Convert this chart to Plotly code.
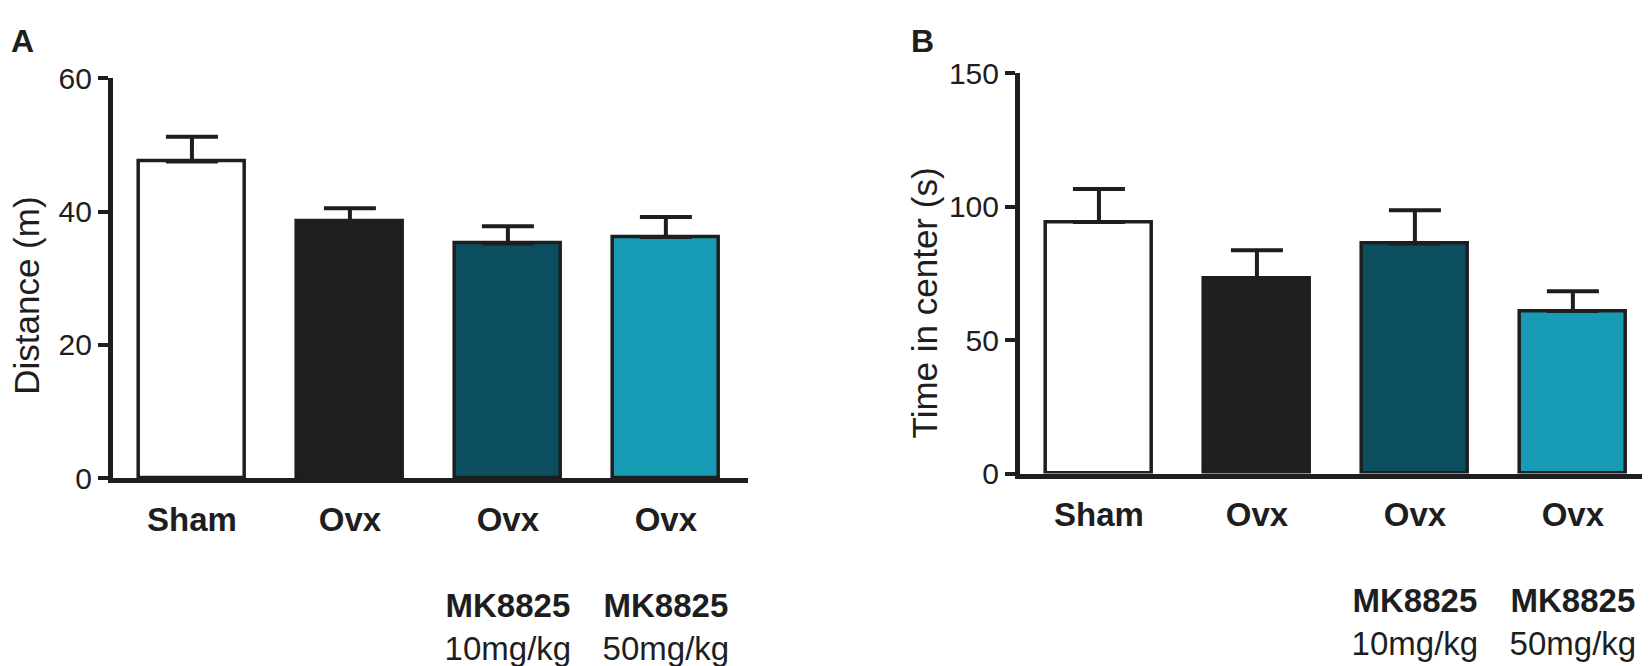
import plotly.graph_objects as go

# group labels (bottom of each bar)
groups = ["Sham", "Ovx", "Ovx", "Ovx"]
treatments = ["", "", "MK8825", "MK8825"]
doses = ["", "", "10mg/kg", "50mg/kg"]

# panel A: distance travelled (m), mean and upper SEM
distance_mean = [47.5, 38.5, 35.2, 36.2]
distance_sem = [3.7, 2.0, 2.6, 3.0]

# panel B: time in center (s), mean and upper SEM
center_mean = [94.3, 73.2, 86.2, 60.9]
center_sem = [12.4, 10.5, 12.5, 7.4]

bar_colors = ["#ffffff", "#1f1f1f", "#0a4e60", "#179bb4"]
ink = "#1e1e1e"
font_family = "Liberation Sans, Arial, sans-serif"
W, H = 1650, 666

positions = list(range(len(groups)))
tick_text = []
for g, t, d in zip(groups, treatments, doses):
	label = f"<b>{g}</b>"
	if t:
		label += f"<br><br><b>{t}</b><br>{d}"
	tick_text.append(label)


def bar_trace(means, sems, xaxis, yaxis):
	return go.Bar(
		x=positions,
		y=means,
		width=0.67,
		marker=dict(color=bar_colors, line=dict(color=ink, width=3.5)),
		error_y=dict(type="data", array=sems, arrayminus=[0] * len(sems), symmetric=False,
			color=ink, thickness=4, width=26),
		xaxis=xaxis,
		yaxis=yaxis,
		showlegend=False,
	)


def label(text, x, y, size, angle=0):
	# x, y in pixels from the top-left corner
	return dict(text=text, x=x / W, y=1 - y / H, xref="paper", yref="paper",
		xanchor="center", yanchor="middle", textangle=angle, showarrow=False,
		font=dict(family=font_family, size=size, color=ink))


fig = go.Figure()
fig.add_trace(bar_trace(distance_mean, distance_sem, "x", "y"))
fig.add_trace(bar_trace(center_mean, center_sem, "x2", "y2"))

xcommon = dict(
	range=[-0.5, 3.52],
	tickmode="array",
	tickvals=positions,
	ticktext=tick_text,
	showline=True,
	linecolor=ink,
	linewidth=5,
	ticks="",
	ticklabelstandoff=8,
	tickfont=dict(family=font_family, size=33, color=ink),
	showgrid=False,
	zeroline=False,
	fixedrange=True,
)
ycommon = dict(
	showline=True,
	linecolor=ink,
	linewidth=5,
	ticks="outside",
	ticklen=10,
	tickwidth=4,
	tickcolor=ink,
	tickfont=dict(family=font_family, size=30, color=ink),
	showgrid=False,
	zeroline=False,
)

fig.update_layout(
	width=W,
	height=H,
	margin=dict(l=0, r=0, t=0, b=0),
	paper_bgcolor="white",
	plot_bgcolor="white",
	bargap=0,
	xaxis=dict(domain=[0.0636, 0.4485], anchor="y", **xcommon),
	yaxis=dict(domain=[0.2823, 0.9144], anchor="x", range=[0, 60], tickvals=[0, 20, 40, 60], **ycommon),
	xaxis2=dict(domain=[0.6133, 0.9982], anchor="y2", **xcommon),
	yaxis2=dict(domain=[0.2898, 0.9219], anchor="x2", range=[0, 150], tickvals=[0, 50, 100, 150], **ycommon),
	annotations=[
		label("<b>A</b>", 14, 18, 32),
		label("<b>B</b>", 914, 18, 32),
		label("Distance (m)", 19, 286, 35, -90),
		label("Time in center (s)", 916, 294, 35, -90),
	],
)

fig.write_html("out.html")
